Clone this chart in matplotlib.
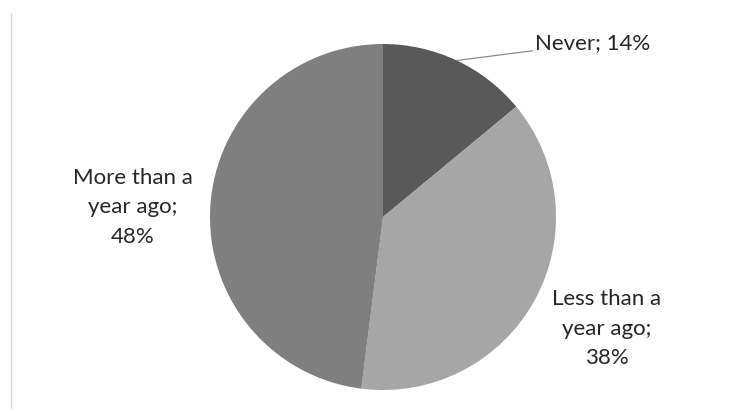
import matplotlib.pyplot as plt
from matplotlib.lines import Line2D
import numpy as np

# data
labels = ["Never", "Less than a\nyear ago", "More than a\nyear ago"]
shares = [14, 38, 48]
colors = ["#595959", "#a6a6a6", "#7f7f7f"]

plt.rcParams['font.family'] = ['Lato', 'DejaVu Sans']

fig = plt.figure(figsize=(7.44, 4.12), dpi=100)
ax = fig.add_axes([210/744, 22/412, 346/744, 346/412])

wedges, _ = ax.pie(shares, colors=colors, startangle=90, counterclock=False,
                   wedgeprops=dict(linewidth=0))
ax.set_xlim(-1, 1)
ax.set_ylim(-1, 1)
ax.set_aspect('equal')
ax.axis('off')

txt_col = "#262626"
fs = 16
# label placement (axes data units, radius = 1)
label_pos = [(0.88, 1.005), (1.295, -0.645), (-1.445, 0.055)]
for w, lab, s, pos in zip(wedges, labels, shares, label_pos):
    text = lab + "; " + str(s) + "%" if "\n" not in lab else lab + ";\n" + str(s) + "%"
    if lab == "Never":
        ang = np.deg2rad((w.theta1 + w.theta2) / 2)
        x0, y0 = np.cos(ang), np.sin(ang)
        ax.annotate(text, xy=(x0, y0), xytext=pos, ha='left', va='center',
                    fontsize=fs, color=txt_col, annotation_clip=False,
                    arrowprops=dict(arrowstyle='-', color='#7f7f7f', lw=0.8,
                                    shrinkA=0, shrinkB=0))
    else:
        ax.text(pos[0], pos[1], text, ha='center', va='center', fontsize=fs,
                color=txt_col, linespacing=1.6, clip_on=False)

# chart frame edge on the left
fig.add_artist(Line2D([11/744, 11/744], [4/412, 398/412], color='#d9d9d9', lw=1))

plt.savefig("out.png", dpi=100)
